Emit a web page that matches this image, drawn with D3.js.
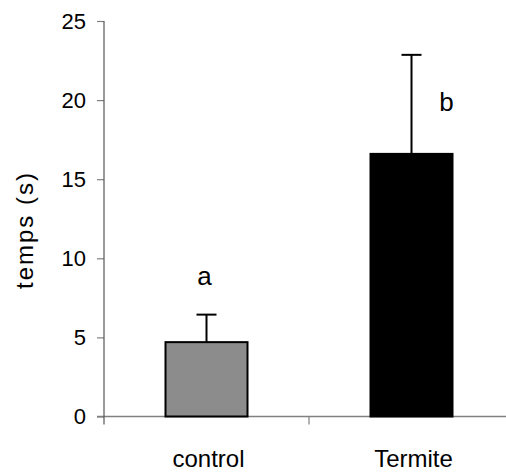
<!DOCTYPE html>
<html>
<head>
<meta charset="utf-8">
<script src="https://cdn.jsdelivr.net/npm/d3@7"></script>
<style>
  html, body { margin: 0; padding: 0; background: #fff; }
  text { font-family: "Liberation Sans", Arial, sans-serif; fill: #000; }
</style>
</head>
<body>
<svg id="chart" width="506" height="472"></svg>
<script>
const categories = ["control", "Termite"];
const means = [4.7, 16.6];
const errors = [1.74, 6.26];
const letters = ["a", "b"];
const yTicks = [0, 5, 10, 15, 20, 25];
const yTitle = "temps (s)";
const fills = ["#8c8c8c", "#000000"];

const svg = d3.select("#chart");
const y = d3.scaleLinear().domain([0, 25]).range([416.5, 21]);
const x = d3.scaleBand().domain(categories).range([104, 514]).padding(0);
const bw = x.bandwidth() * 0.4;

// x axis line (gray)
svg.append("line").attr("x1", 97).attr("x2", 506)
  .attr("y1", y(0)).attr("y2", y(0))
  .attr("stroke", "#808080").attr("stroke-width", 1.5);
// x category tick marks at band boundaries
categories.forEach((c, i) => {
  const bx = x(c) + x.bandwidth();
  svg.append("line").attr("x1", bx).attr("x2", bx)
    .attr("y1", y(0)).attr("y2", y(0) + 8)
    .attr("stroke", "#808080").attr("stroke-width", 1.2);
});

// y axis
const yAxis = d3.axisLeft(y).tickValues(yTicks).tickSize(7).tickPadding(11);
const yg = svg.append("g").attr("transform", "translate(104,0)").call(yAxis);
yg.select(".domain").remove();
yg.selectAll(".tick line").attr("stroke", "#808080").attr("stroke-width", 1.2);
yg.selectAll(".tick text").attr("font-size", 22)
  .style("font-family", "'Liberation Sans', Arial, sans-serif").attr("fill", "#000");
svg.append("line").attr("x1", 104).attr("x2", 104)
  .attr("y1", y(25)).attr("y2", y(0) + 8)
  .attr("stroke", "#555").attr("stroke-width", 1.2);

// bars
svg.selectAll("rect.bar").data(categories).enter().append("rect")
  .attr("class", "bar")
  .attr("x", (d) => x(d) + (x.bandwidth() - bw) / 2)
  .attr("width", bw)
  .attr("y", (d, i) => y(means[i]))
  .attr("height", (d, i) => y(0) - y(means[i]))
  .attr("fill", (d, i) => fills[i])
  .attr("stroke", "#000").attr("stroke-width", 2);

// error bars
categories.forEach((c, i) => {
  const cx = x(c) + x.bandwidth() / 2;
  svg.append("line").attr("x1", cx).attr("x2", cx)
    .attr("y1", y(means[i])).attr("y2", y(means[i] + errors[i]))
    .attr("stroke", "#000").attr("stroke-width", 2);
  svg.append("line").attr("x1", cx - 10).attr("x2", cx + 10)
    .attr("y1", y(means[i] + errors[i])).attr("y2", y(means[i] + errors[i]))
    .attr("stroke", "#000").attr("stroke-width", 2);
});

// category labels
svg.selectAll("text.cat").data(categories).enter().append("text")
  .attr("class", "cat")
  .attr("x", (d) => x(d) + x.bandwidth() / 2 + 2)
  .attr("y", 467)
  .attr("text-anchor", "middle")
  .attr("font-size", 24)
  .text((d) => d);

// significance letters
const c0 = x(categories[0]) + x.bandwidth() / 2;
svg.append("text").attr("x", c0 - 2).attr("y", y(means[0] + errors[0]) - 30)
  .attr("text-anchor", "middle").attr("font-size", 26).text(letters[0]);
const c1 = x(categories[1]) + x.bandwidth() / 2;
svg.append("text").attr("x", c1 + 35).attr("y", y(means[1] + errors[1]) + 56)
  .attr("text-anchor", "middle").attr("font-size", 26).text(letters[1]);

// y title
svg.append("text")
  .attr("transform", "translate(33,230) rotate(-90)")
  .attr("text-anchor", "middle")
  .attr("font-size", 24)
  .attr("letter-spacing", 2)
  .text(yTitle);
</script>
</body>
</html>
